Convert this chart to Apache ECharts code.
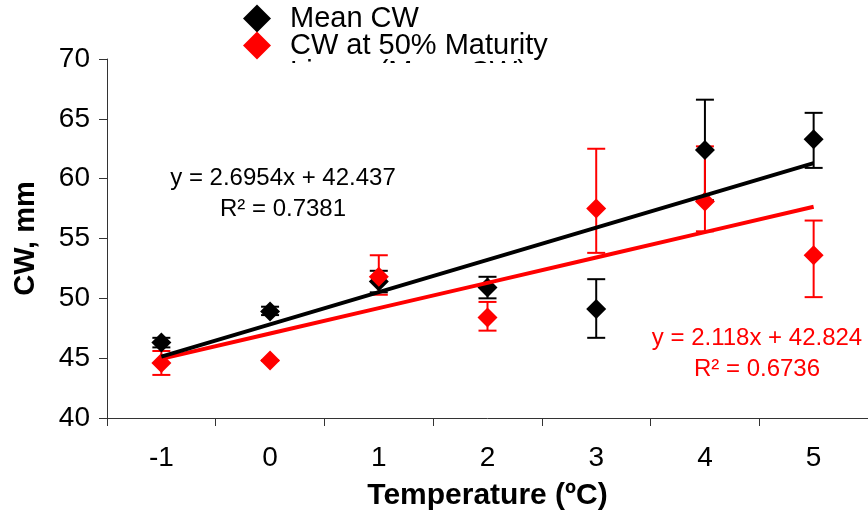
<!DOCTYPE html>
<html>
<head>
<meta charset="utf-8">
<script src="https://cdn.jsdelivr.net/npm/echarts@6/dist/echarts.min.js"></script>
<style>
  html, body { margin: 0; padding: 0; background: #fff; }
  #chart { width: 868px; height: 516px; }
</style>
</head>
<body>
<div id="chart"></div>
<script>
// Temperature categories (ºC)
const categories = ['-1', '0', '1', '2', '3', '4', '5'];

// Mean carapace width (mm) with error bar ends
const meanCW     = [46.3, 48.9, 51.4, 50.9, 49.1, 62.4, 63.3];
const meanCWLow  = [45.9, 48.6, 50.5, 50.0, 46.7, 58.2, 60.9];
const meanCWHigh = [46.7, 49.3, 52.3, 51.8, 51.6, 66.6, 65.5];

// Carapace width at 50% maturity (mm) with error bar ends
const mat50     = [44.6, 44.8, 51.8, 48.4, 57.5, 58.1, 53.6];
const mat50Low  = [43.6, 44.8, 50.3, 47.3, 53.8, 55.6, 50.1];
const mat50High = [45.6, 44.8, 53.6, 49.7, 62.5, 62.7, 56.5];

// Linear trendlines (x = category position 1..7)
const meanFit = { slope: 2.6954, intercept: 42.437, r2: '0.7381' };
const matFit  = { slope: 2.118,  intercept: 42.824, r2: '0.6736' };

const FONT = '"Liberation Sans", Arial, sans-serif';
const RED = '#ff0000';

function trend(fit) {
  return categories.map((_, i) => +(fit.slope * (i + 1) + fit.intercept).toFixed(3));
}

function errorSeries(name, low, high, color, z) {
  return {
    type: 'custom',
    name: name,
    z: z,
    silent: true,
    data: categories.map((_, i) => [i, low[i], high[i]]),
    renderItem: function (params, api) {
      const i = api.value(0);
      const lo = api.coord([i, api.value(1)]);
      const hi = api.coord([i, api.value(2)]);
      const hw = 9;
      const style = { stroke: color, lineWidth: 2 };
      return {
        type: 'group',
        children: [
          { type: 'line', shape: { x1: lo[0], y1: lo[1], x2: hi[0], y2: hi[1] }, style: style },
          { type: 'line', shape: { x1: lo[0] - hw, y1: lo[1], x2: lo[0] + hw, y2: lo[1] }, style: style },
          { type: 'line', shape: { x1: hi[0] - hw, y1: hi[1], x2: hi[0] + hw, y2: hi[1] }, style: style }
        ]
      };
    }
  };
}

function equationText(fit, color, x, y) {
  return {
    type: 'text',
    x: x,
    y: y,
    z: 50,
    style: {
      text: 'y = ' + fit.slope + 'x + ' + fit.intercept + '\nR² = ' + fit.r2,
      fill: color,
      font: '24px ' + FONT,
      align: 'center',
      verticalAlign: 'top',
      lineHeight: 31
    }
  };
}

const chart = echarts.init(document.getElementById('chart'), null, { renderer: 'canvas' });

chart.setOption({
  backgroundColor: '#fff',
  animation: false,
  textStyle: { fontFamily: FONT },
  grid: { left: 107, top: 59, right: -5, bottom: 98, containLabel: false },
  legend: {
    orient: 'vertical',
    left: 238,
    top: -1,
    itemWidth: 28,
    itemHeight: 28,
    itemGap: -2,
    icon: 'diamond',
    selectedMode: false,
    data: [
      'Mean CW',
      'CW at 50% Maturity',
      { name: 'Linear (Mean CW)', itemStyle: { opacity: 0 } }
    ],
    textStyle: { fontSize: 29, fontFamily: FONT, color: '#000', lineHeight: 26, padding: [0, 0, 0, 14] }
  },
  xAxis: {
    type: 'category',
    data: categories,
    boundaryGap: true,
    name: 'Temperature (ºC)',
    nameLocation: 'middle',
    nameGap: 63,
    nameTextStyle: { fontSize: 30, fontWeight: 'bold', color: '#000', fontFamily: FONT },
    axisLine: { lineStyle: { color: '#333', width: 1 } },
    axisTick: { show: true, length: 8, alignWithLabel: false, lineStyle: { color: '#333' } },
    axisLabel: { fontSize: 28, color: '#000', margin: 26, fontFamily: FONT },
    splitLine: { show: false }
  },
  yAxis: {
    type: 'value',
    min: 40,
    max: 70,
    interval: 5,
    name: 'CW, mm',
    nameLocation: 'middle',
    nameGap: 67,
    nameTextStyle: { fontSize: 29, fontWeight: 'bold', color: '#000', fontFamily: FONT },
    axisLine: { show: true, lineStyle: { color: '#333', width: 1 } },
    axisTick: { show: true, length: 8, lineStyle: { color: '#333' } },
    axisLabel: { fontSize: 28, color: '#000', margin: 17, fontFamily: FONT },
    splitLine: { show: false }
  },
  graphic: [
    // the plot area hides the lower part of the legend's third entry
    { type: 'rect', z: 100, shape: { x: 200, y: 63, width: 400, height: 40 }, style: { fill: '#fff' } },
    equationText(meanFit, '#000', 283, 163),
    equationText(matFit, RED, 757, 323)
  ],
  series: [
    errorSeries('Mean CW error', meanCWLow, meanCWHigh, '#000', 2),
    errorSeries('Maturity error', mat50Low, mat50High, RED, 2),
    {
      name: 'Mean CW',
      type: 'scatter',
      z: 3,
      symbol: 'diamond',
      symbolSize: 20,
      itemStyle: { color: '#000', opacity: 1 },
      data: meanCW
    },
    {
      name: 'CW at 50% Maturity',
      type: 'scatter',
      z: 4,
      symbol: 'diamond',
      symbolSize: 20,
      itemStyle: { color: RED, opacity: 1 },
      data: mat50
    },
    {
      name: 'Linear (CW at 50% Maturity)',
      type: 'line',
      z: 5,
      symbol: 'none',
      lineStyle: { color: RED, width: 4 },
      itemStyle: { color: RED },
      data: trend(matFit)
    },
    {
      name: 'Linear (Mean CW)',
      type: 'line',
      z: 6,
      symbol: 'none',
      lineStyle: { color: '#000', width: 4 },
      itemStyle: { color: '#000' },
      data: trend(meanFit)
    }
  ]
});
</script>
</body>
</html>
